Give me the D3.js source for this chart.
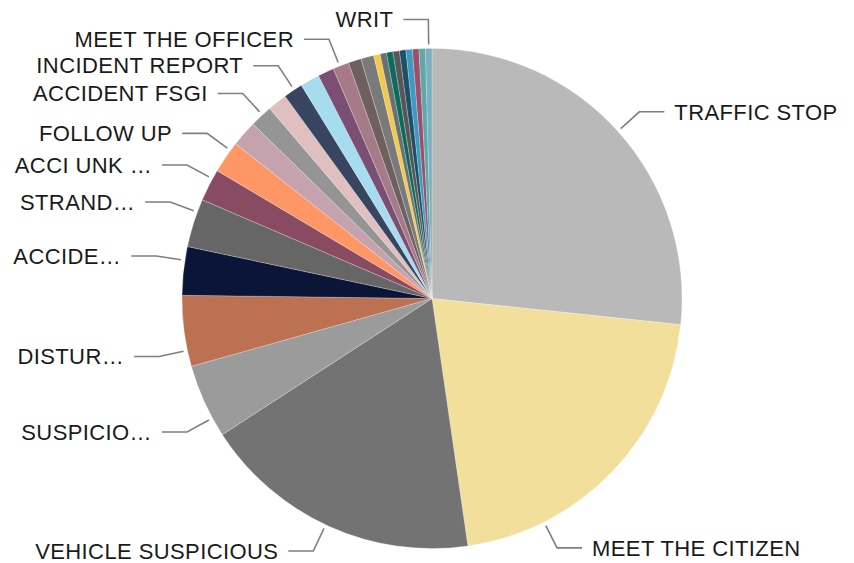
<!DOCTYPE html>
<html>
<head>
<meta charset="utf-8">
<script src="https://cdn.jsdelivr.net/npm/d3@7"></script>
<style>
    html, body {margin: 0; padding: 0; background: #ffffff;}
    svg {display: block;}
</style>
</head>
<body>
<svg id="chart"></svg>
<script>
// call types, sorted by count (largest first, clockwise from 12 o'clock)
const categories = [
    'TRAFFIC STOP', 'MEET THE CITIZEN', 'VEHICLE SUSPICIOUS', 'SUSPICIOUS', 'DISTURBANCE',
    'ACCIDENT', 'STRANDED', 'ACCI UNK', 'FOLLOW UP', 'TYPE 10', 'ACCIDENT FSGI', 'TYPE 12',
    'INCIDENT REPORT', 'TYPE 14', 'TYPE 15', 'MEET THE OFFICER', 'TYPE 17', 'TYPE 18',
    'TYPE 19', 'TYPE 20', 'TYPE 21', 'TYPE 22', 'TYPE 23', 'TYPE 24', 'TYPE 25', 'TYPE 26', 'WRIT'
];
const counts = [128, 101, 87, 23, 22, 15, 15, 10, 10, 8, 7, 6, 6, 6, 5, 5, 4, 4, 2, 2, 2, 2, 2, 2, 2, 2, 2];

// text as it shows on the chart ('' = no label drawn for that slice)
const labels = [
    'TRAFFIC STOP', 'MEET THE CITIZEN', 'VEHICLE SUSPICIOUS', 'SUSPICIO…', 'DISTUR…',
    'ACCIDE…', 'STRAND…', 'ACCI UNK …', 'FOLLOW UP', '', 'ACCIDENT FSGI', '',
    'INCIDENT REPORT', '', '', 'MEET THE OFFICER', '', '',
    '', '', '', '', '', '', '', '', 'WRIT'
];

const colors = [
    '#b9b9b9', '#f1df9b', '#737373', '#9b9b9b', '#bb7152', '#0b1538', '#666666', '#894b62',
    '#fe9666', '#c5a3ae', '#959595', '#dfbfbf', '#374560', '#a6ddee', '#7b4f73', '#a67b89',
    '#6f6060', '#7a7a7a', '#f2c94c', '#6b7073', '#0d6b5c', '#575757', '#1e4f66', '#3a9bc2',
    '#a04c6a', '#5ea8a8', '#7aafc0'
];

// label anchor shift along the arc (degrees) so labels don't collide
const labelNudge = [0, 19.5, 0.8, -4.2, -4.5, 2.4, 2.6, 1.6, 1.8, 0, 0.4, 0, 0.3, 0, 0, -0.3, 0, 0, 0, 0, 0, 0, 0, 0, 0, 0, 0];

const width = 854;
const height = 563;
const cx = 432;
const cy = 298.5;
const radius = 250;

const svg = d3.select('#chart')
    .attr('width', width)
    .attr('height', height);

const data = categories.map((c, i) => ({name: c, value: counts[i], label: labels[i], i: i}));

const pie = d3.pie()
    .sort(null)
    .value(d => d.value);

const arcs = pie(data);

const arc = d3.arc()
    .innerRadius(0)
    .outerRadius(radius);

const colorScale = d3.scaleOrdinal()
    .domain(categories)
    .range(colors);

const g = svg.append('g')
    .attr('transform', `translate(${cx}, ${cy})`);

g.selectAll('path.slice')
    .data(arcs)
    .join('path')
    .attr('class', 'slice')
    .attr('d', arc)
    .attr('fill', d => colorScale(d.data.name))
    .attr('stroke', '#ffffff')
    .attr('stroke-width', 0.4)
    .attr('stroke-opacity', 0.6);

// leader lines + labels
const startR = 254;
const elbowR = 279;
const hLen = 25;
const gap = 10;

const polar = (r, a) => [r * Math.sin(a), -r * Math.cos(a)];

const labelled = arcs.filter(d => d.data.label !== '');

const lab = g.append('g').attr('class', 'labels');

labelled.forEach(d => {
    const a = (d.startAngle + d.endAngle) / 2 + labelNudge[d.data.i] * Math.PI / 180;
    const left = Math.sin(a) < 0;
    const p0 = polar(startR, a);
    const p1 = polar(elbowR, a);
    const p2 = [p1[0] + (left ? -hLen : hLen), p1[1]];

    lab.append('polyline')
        .attr('points', [p0, p1, p2].map(p => p.join(',')).join(' '))
        .attr('fill', 'none')
        .attr('stroke', '#7f7f7f')
        .attr('stroke-width', 1.6);

    lab.append('text')
        .attr('x', p2[0] + (left ? -gap : gap))
        .attr('y', p2[1])
        .attr('dy', '0.35em')
        .attr('text-anchor', left ? 'end' : 'start')
        .style('font-family', '"Liberation Sans", Arial, sans-serif')
        .style('font-size', '22px')
        .style('letter-spacing', '0.4px')
        .attr('fill', '#1a1a1a')
        .text(d.data.label);
});
</script>
</body>
</html>
